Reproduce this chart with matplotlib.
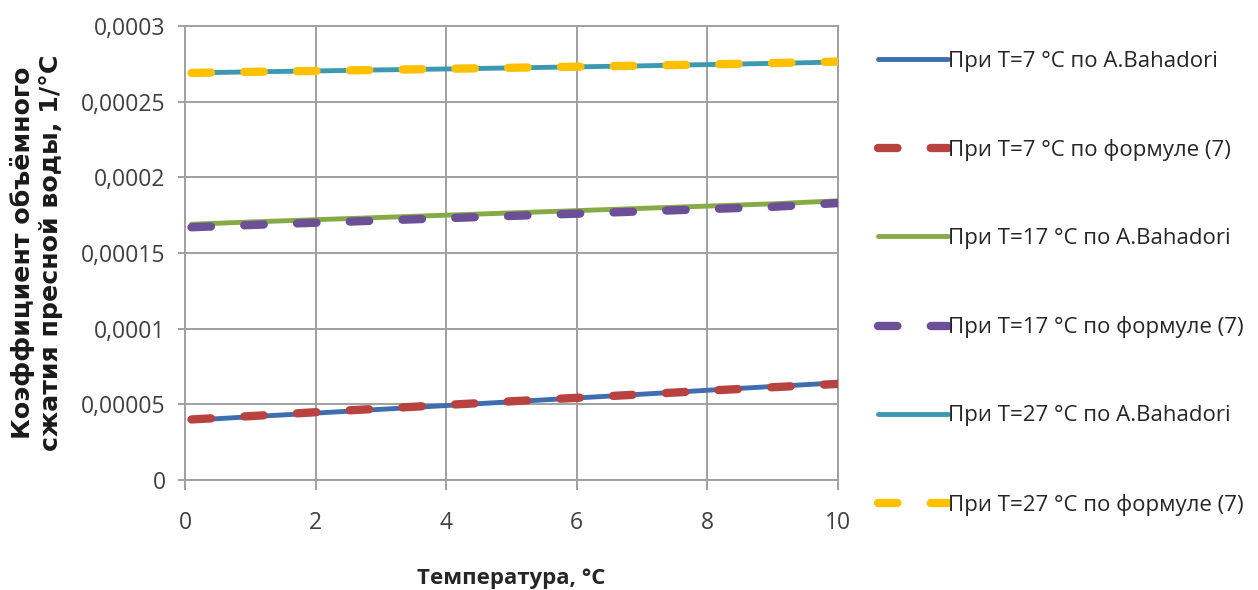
import matplotlib
matplotlib.use("Agg")
import matplotlib.pyplot as plt
from matplotlib.ticker import FuncFormatter

plt.rcParams["lines.scale_dashes"] = False
face = ["Open Sans", "DejaVu Sans"]

# temperature, °C
temp = [0.1, 1, 2, 3, 4, 5, 6, 7, 8, 9, 10]

# compressibility, 1/°C
bahadori_7 = [3.95e-5, 4.18e-5, 4.42e-5, 4.67e-5, 4.92e-5, 5.17e-5, 5.42e-5, 5.67e-5, 5.93e-5, 6.18e-5, 6.42e-5]
formula_7 = [4.0e-5, 4.22e-5, 4.48e-5, 4.72e-5, 4.96e-5, 5.2e-5, 5.43e-5, 5.66e-5, 5.9e-5, 6.13e-5, 6.35e-5]
bahadori_17 = [1.69e-4, 1.705e-4, 1.72e-4, 1.735e-4, 1.75e-4, 1.765e-4, 1.78e-4, 1.795e-4, 1.81e-4, 1.825e-4, 1.845e-4]
formula_17 = [1.67e-4, 1.685e-4, 1.70e-4, 1.715e-4, 1.73e-4, 1.745e-4, 1.76e-4, 1.775e-4, 1.79e-4, 1.805e-4, 1.83e-4]
bahadori_27 = [2.69e-4, 2.697e-4, 2.703e-4, 2.71e-4, 2.716e-4, 2.723e-4, 2.73e-4, 2.737e-4, 2.745e-4, 2.753e-4, 2.762e-4]
formula_27 = [2.69e-4, 2.697e-4, 2.703e-4, 2.71e-4, 2.717e-4, 2.724e-4, 2.731e-4, 2.738e-4, 2.746e-4, 2.755e-4, 2.765e-4]

labels = [
    "При Т=7 °С по A.Bahadori",
    "При Т=7 °С по формуле (7)",
    "При Т=17 °С по A.Bahadori",
    "При Т=17 °С по формуле (7)",
    "При Т=27 °С по A.Bahadori",
    "При Т=27 °С по формуле (7)",
]
colors = ["#3E6DB0", "#B8423F", "#86AA45", "#6C4F96", "#3B9AB2", "#FFC000"]

fig = plt.figure(figsize=(12.58, 5.9), dpi=100)
ax = fig.add_axes([185 / 1258, 110 / 590, 653 / 1258, 454 / 590])

series = [bahadori_7, formula_7, bahadori_17, formula_17, bahadori_27, formula_27]
for i, (vals, lab, c) in enumerate(zip(series, labels, colors)):
    if i % 2 == 0:
        ax.plot(temp, vals, color=c, lw=3.5, solid_capstyle="round", label=lab, zorder=3)
    else:
        ax.plot(temp, vals, color=c, lw=6, dashes=(14, 24), dash_capstyle="round",
                label=lab, zorder=4)

ax.set_xlim(0, 10)
ax.set_ylim(0, 0.0003)
ax.set_xticks([0, 2, 4, 6, 8, 10])
ax.set_yticks([0, 0.00005, 0.0001, 0.00015, 0.0002, 0.00025, 0.0003])
ax.yaxis.set_major_formatter(FuncFormatter(
    lambda v, p: "0" if v == 0 else ("%.5f" % v).rstrip("0").replace(".", ",")))

ax.grid(True, color="#A0A0A0", lw=1.4)
ax.set_axisbelow(True)
for s in ax.spines.values():
    s.set_color("#A0A0A0")
    s.set_linewidth(1.4)
ax.tick_params(axis="both", colors="#A0A0A0", width=1.4,
               labelcolor="#404040", labelsize=16.5)
ax.tick_params(axis="x", length=7, pad=15)
ax.tick_params(axis="y", length=5, pad=9)
for t in ax.get_xticklabels() + ax.get_yticklabels():
    t.set_fontfamily(face)

ax.set_xlabel("Температура, °С", fontsize=16, fontweight="bold", family=face,
              color="#262626", labelpad=24)
fig.text(0.029, 1 - 253 / 590, "Коэффициент объёмного\nсжатия пресной воды, 1/°С",
         rotation=90, ha="center", va="center", fontsize=18.2, fontweight="bold",
         color="#1a1a1a", linespacing=1.22)

fig.legend(loc="upper left", bbox_to_anchor=(858 / 1258, 1 - 31 / 590),
           frameon=False, handlelength=3.15, handletextpad=0.0, labelspacing=3.02,
           prop={"family": face, "size": 16}, labelcolor="#262626")

fig.savefig("out.png", dpi=100)
